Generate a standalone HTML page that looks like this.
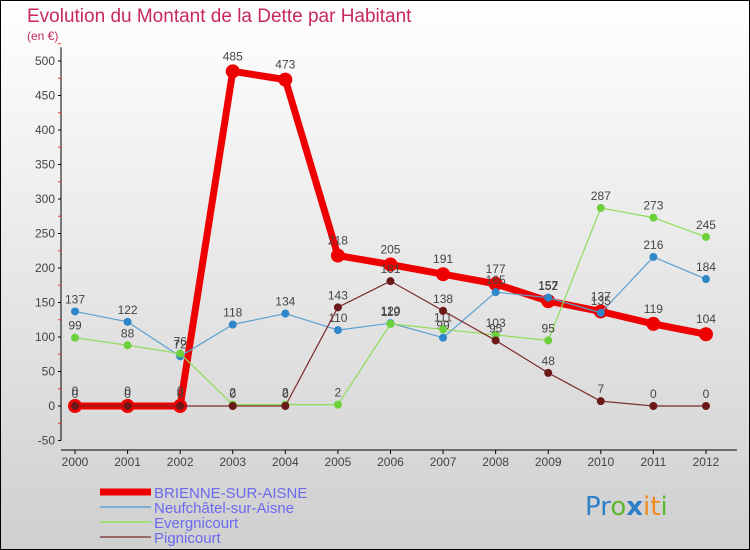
<!DOCTYPE html>
<html><head><meta charset="utf-8"><style>
body{margin:0;width:750px;height:550px;overflow:hidden;font-family:"Liberation Sans",sans-serif}
svg{display:block}
</style></head><body>
<svg id="c" width="750" height="550" xmlns="http://www.w3.org/2000/svg">
<defs><linearGradient id="bg" x1="0" y1="0" x2="0" y2="1"><stop offset="0" stop-color="#ffffff"/><stop offset="1" stop-color="#cfcfcf"/></linearGradient></defs>
<rect x="0.5" y="0.5" width="749" height="549" fill="url(#bg)" stroke="#000"/>
<text x="27" y="22" font-size="19" fill="#c8285a">Evolution du Montant de la Dette par Habitant</text>
<text x="27" y="40" font-size="12" fill="#c8285a">(en €)</text>
<g id="axes"></g><g id="series"></g><g id="legend"></g>
<g font-size="26" font-family="'DejaVu Sans',sans-serif">
<text x="585" y="515"><tspan fill="#2f7ec8">Pr</tspan><tspan fill="#5cb82e">o</tspan><tspan fill="#2f7ec8" font-weight="bold">x</tspan><tspan fill="#f08a1c">it</tspan><tspan fill="#5cb82e">i</tspan></text>
</g>
</svg>
<script>
const years=[2000,2001,2002,2003,2004,2005,2006,2007,2008,2009,2010,2011,2012];
const yTicks=[-50,0,50,100,150,200,250,300,350,400,450,500];
const brienne=[0,0,0,485,473,218,205,191,177,152,137,119,104];
const neufchatel=[137,122,72,118,134,110,120,99,165,157,135,216,184];
const evergnicourt=[99,88,76,2,2,2,119,111,103,95,287,273,245];
const pignicourt=[0,0,0,0,0,143,181,138,95,48,7,0,0];
const NS="http://www.w3.org/2000/svg";
const X=i=>75+i*52.58;
const Y=v=>406-v*0.69;
function mk(tag,attrs,parent){const e=document.createElementNS(NS,tag);for(const k in attrs)e.setAttribute(k,attrs[k]);parent.appendChild(e);return e;}
const ax=document.getElementById('axes');
let a=mk('line',{x1:61,y1:Y(-50),x2:61,y2:Y(520),stroke:'#000'},ax);


a=mk('line',{x1:61,y1:450,x2:737,y2:450,stroke:'#000'},ax);


yTicks.forEach(v=>{
 mk('line',{x1:58,y1:Y(v),x2:61,y2:Y(v),stroke:'#000'},ax);
 mk('line',{x1:58,y1:Y(v+25),x2:61,y2:Y(v+25),stroke:'#e33'},ax);
 const t=mk('text',{x:55,y:Y(v)+4,'font-size':12,fill:'#444','text-anchor':'end'},ax);
 t.textContent=v;
 
 
});
years.forEach((y,i)=>{
 mk('line',{x1:X(i),y1:450,x2:X(i),y2:454,stroke:'#000'},ax);
 const t=mk('text',{x:X(i),y:466,'font-size':12,fill:'#444','text-anchor':'middle'},ax);
 t.textContent=y;
 
 
});
const sg=document.getElementById('series');
function draw(data,color,w,r,name){
 const g=mk('g',{},sg);
 
 
 const pl=mk('polyline',{points:data.map((v,i)=>X(i)+','+Y(v)).join(' '),fill:'none',stroke:color,'stroke-width':w,'stroke-linejoin':'round'},g);
 
 
 data.forEach((v,i)=>{
  const c=mk('circle',{cx:X(i),cy:Y(v),r:r,fill:color},g);
  
  
  const t=mk('text',{x:X(i),y:Y(v)-8-(r>4?3:0),'font-size':12,fill:'#444','text-anchor':'middle'},g);
  t.textContent=v;
  
  
 });
}
draw(brienne,'#ee0000',7,7,'brienne');
draw(neufchatel,'#5aa0d0',1.2,4,'neufchatel');
draw(evergnicourt,'#8edc5a',1.2,4,'evergnicourt');
draw(pignicourt,'#7a2a2a',1.2,4,'pignicourt');
sg.querySelectorAll('g')[1].querySelectorAll('circle').forEach(c=>c.setAttribute('fill','#2f86c8'));
sg.querySelectorAll('g')[2].querySelectorAll('circle').forEach(c=>c.setAttribute('fill','#6cd03a'));
sg.querySelectorAll('g')[3].querySelectorAll('circle').forEach(c=>c.setAttribute('fill','#6a1818'));
const lg=document.getElementById('legend');
const names=['BRIENNE-SUR-AISNE','Neufchâtel-sur-Aisne','Evergnicourt','Pignicourt'];
const cols=['#ee0000','#7aaed6','#9ee07a','#9a6a6a'];
const ws=[7,2,2,2];
names.forEach((n,i)=>{
 const y=492+i*15;
 const l=mk('line',{x1:100,y1:y,x2:151,y2:y,stroke:cols[i],'stroke-width':ws[i]},lg);
 
 
 const t=mk('text',{x:154,y:y+6,'font-size':15,fill:'#6a6aee'},lg);
 t.textContent=n;
 
 
});
</script>
</body></html>
